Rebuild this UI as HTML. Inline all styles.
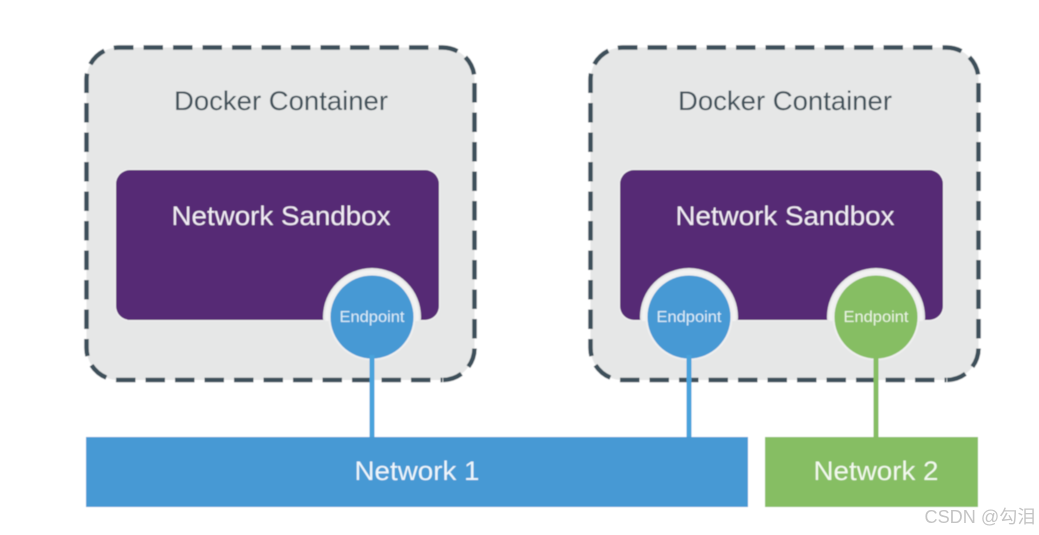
<!DOCTYPE html>
<html><head><meta charset="utf-8"><style>
html,body{margin:0;padding:0;background:#fff;width:1039px;height:535px;overflow:hidden}
svg{display:block}
text{font-family:"Liberation Sans","Noto Sans CJK SC",sans-serif;text-anchor:middle}
.d{fill:none;stroke:#3d4f5a;stroke-width:4.5;stroke-dasharray:19.5 10}
</style></head><body>
<svg width="1039" height="535" viewBox="0 0 1039 535" xmlns="http://www.w3.org/2000/svg">
<defs>
<filter id="b" x="0" y="0" width="1" height="1" filterUnits="objectBoundingBox"><feGaussianBlur stdDeviation="0.6"/></filter>
</defs>
<rect width="1039" height="535" fill="#fff"/>
<g filter="url(#b)">
<rect x="0" y="0" width="1039" height="535" fill="#fff"/>
<!-- Container 1 -->
<g>
<rect x="86.500" y="47.500" width="388" height="332.500" rx="32" fill="#e6e7e7"/>
<path class="d" d="M86.500 348V79.500A32 32 0 0 1 118.500 47.500" stroke-dashoffset="-19"/>
<path class="d" d="M118.500 47.500H442.500A32 32 0 0 1 474.500 79.500" stroke-dashoffset="4.500"/>
<path class="d" d="M474.500 79.500V348A32 32 0 0 1 442.500 380" stroke-dashoffset="-3.500"/>
<path class="d" d="M442.500 380H118.500A32 32 0 0 1 86.500 348" stroke-dashoffset="-12"/>
</g>
<rect x="115" y="169" width="325" height="152" rx="15" fill="#f4f4f4"/>
<rect x="116" y="170" width="323" height="150" rx="14" fill="#572c74"/>
<circle cx="372" cy="317" r="49" fill="#e6e7e7"/>
<circle cx="372" cy="317" r="47" fill="#f2f2f2"/>
<rect x="320" y="321" width="104" height="50" fill="#e6e7e7"/>
<circle cx="372" cy="317" r="43.500" fill="#efefef"/>
<circle cx="372" cy="317" r="41.500" fill="#4799d4"/>
<rect x="369.500" y="355" width="5" height="83" fill="#4aa3dc"/>
<text x="281" y="110" font-size="27" fill="#3f5059" textLength="214" lengthAdjust="spacingAndGlyphs">Docker Container</text>
<text x="281" y="225" font-size="27" fill="#f1ecf4" textLength="219" lengthAdjust="spacingAndGlyphs">Network Sandbox</text>
<text x="372" y="322" font-size="15.500" fill="#dcedf8" textLength="65" lengthAdjust="spacingAndGlyphs">Endpoint</text>
<!-- Container 2 -->
<g transform="translate(504 0)">
<rect x="86.500" y="47.500" width="388" height="332.500" rx="32" fill="#e6e7e7"/>
<path class="d" d="M86.500 348V79.500A32 32 0 0 1 118.500 47.500" stroke-dashoffset="-19"/>
<path class="d" d="M118.500 47.500H442.500A32 32 0 0 1 474.500 79.500" stroke-dashoffset="4.500"/>
<path class="d" d="M474.500 79.500V348A32 32 0 0 1 442.500 380" stroke-dashoffset="-3.500"/>
<path class="d" d="M442.500 380H118.500A32 32 0 0 1 86.500 348" stroke-dashoffset="-12"/>
</g>
<rect x="619" y="169" width="325" height="152" rx="15" fill="#f4f4f4"/>
<rect x="620" y="170" width="323" height="150" rx="14" fill="#572c74"/>
<circle cx="689" cy="317" r="49" fill="#e6e7e7"/>
<circle cx="876" cy="317" r="49" fill="#e6e7e7"/>
<circle cx="689" cy="317" r="47" fill="#f2f2f2"/>
<circle cx="876" cy="317" r="47" fill="#f2f2f2"/>
<rect x="635" y="321" width="108" height="50" fill="#e6e7e7"/>
<rect x="822" y="321" width="108" height="50" fill="#e6e7e7"/>
<circle cx="689" cy="317" r="43.500" fill="#efefef"/>
<circle cx="876" cy="317" r="43.500" fill="#efefef"/>
<circle cx="689" cy="317" r="41.500" fill="#4799d4"/>
<circle cx="876" cy="317" r="41.500" fill="#86be64"/>
<rect x="686.500" y="355" width="5" height="83" fill="#4aa3dc"/>
<rect x="873.500" y="355" width="5" height="83" fill="#86be64"/>
<text x="785" y="110" font-size="27" fill="#3f5059" textLength="214" lengthAdjust="spacingAndGlyphs">Docker Container</text>
<text x="785" y="225" font-size="27" fill="#f1ecf4" textLength="219" lengthAdjust="spacingAndGlyphs">Network Sandbox</text>
<text x="689" y="322" font-size="15.500" fill="#dcedf8" textLength="65" lengthAdjust="spacingAndGlyphs">Endpoint</text>
<text x="876" y="322" font-size="15.500" fill="#eaf4e2" textLength="65" lengthAdjust="spacingAndGlyphs">Endpoint</text>
<!-- Networks -->
<rect x="86" y="437" width="662" height="70" fill="#4799d4"/>
<rect x="765" y="437" width="213" height="70" fill="#86be64"/>
<text x="417" y="480" font-size="27" fill="#eef6fb" textLength="125" lengthAdjust="spacingAndGlyphs">Network 1</text>
<text x="876" y="480" font-size="27" fill="#f3f9ee" textLength="125" lengthAdjust="spacingAndGlyphs">Network 2</text>
</g>
<text x="980" y="523" font-size="18" fill="#c4c4c4" textLength="111" lengthAdjust="spacingAndGlyphs">CSDN @勾泪</text>
</svg>
</body></html>
